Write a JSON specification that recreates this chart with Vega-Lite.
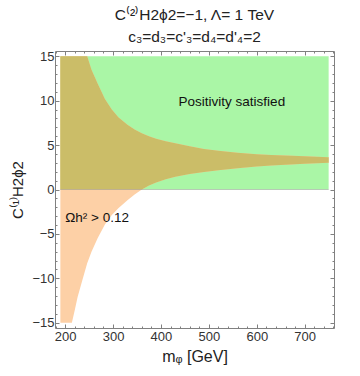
{
  "$schema": "https://vega.github.io/schema/vega-lite/v6.json",
  "width": 279,
  "height": 277,
  "autosize": "none",
  "padding": {"left": 55, "top": 51, "right": 26, "bottom": 48},
  "title": {
    "text": "C⁽²⁾H2ϕ2=−1, Λ= 1 TeV",
    "subtitle": "c₃=d₃=c'₃=d₄=d'₄=2",
    "anchor": "middle",
    "frame": "group",
    "font": "Liberation Sans",
    "fontSize": 15.5,
    "fontWeight": "normal",
    "color": "#222222",
    "subtitleFont": "Liberation Sans",
    "subtitleFontSize": 15.5,
    "subtitleColor": "#222222",
    "subtitlePadding": 6,
    "offset": 5
  },
  "datasets": {
    "pos": [{"x1": 190, "x2": 750, "y1": 0, "y2": 15}],
    "relic": [
      {"m": 190, "lo": -15, "hi": 15, "lo0": 0},
      {"m": 200, "lo": -15, "hi": 15, "lo0": 0},
      {"m": 210, "lo": -15, "hi": 15, "lo0": 0},
      {"m": 214, "lo": -15, "hi": 15, "lo0": 0},
      {"m": 220, "lo": -13.6, "hi": 15, "lo0": 0},
      {"m": 226, "lo": -12.1, "hi": 15, "lo0": 0},
      {"m": 236, "lo": -10.2, "hi": 15, "lo0": 0},
      {"m": 246, "lo": -8.3, "hi": 15, "lo0": 0},
      {"m": 255, "lo": -7.0, "hi": 13.5, "lo0": 0},
      {"m": 268, "lo": -5.45, "hi": 11.9, "lo0": 0},
      {"m": 283, "lo": -3.95, "hi": 10.2, "lo0": 0},
      {"m": 297, "lo": -2.9, "hi": 9.05, "lo0": 0},
      {"m": 311, "lo": -2.1, "hi": 8.15, "lo0": 0},
      {"m": 330, "lo": -1.2, "hi": 7.3, "lo0": 0},
      {"m": 345, "lo": -0.55, "hi": 6.75, "lo0": 0},
      {"m": 360, "lo": 0, "hi": 6.34, "lo0": 0},
      {"m": 375, "lo": 0.45, "hi": 6.0, "lo0": 0.45},
      {"m": 390, "lo": 0.8, "hi": 5.72, "lo0": 0.8},
      {"m": 410, "lo": 1.15, "hi": 5.44, "lo0": 1.15},
      {"m": 430, "lo": 1.45, "hi": 5.2, "lo0": 1.45},
      {"m": 460, "lo": 1.75, "hi": 4.88, "lo0": 1.75},
      {"m": 490, "lo": 1.97, "hi": 4.57, "lo0": 1.97},
      {"m": 520, "lo": 2.18, "hi": 4.36, "lo0": 2.18},
      {"m": 560, "lo": 2.4, "hi": 4.13, "lo0": 2.4},
      {"m": 600, "lo": 2.58, "hi": 3.98, "lo0": 2.58},
      {"m": 630, "lo": 2.7, "hi": 3.9, "lo0": 2.7},
      {"m": 660, "lo": 2.79, "hi": 3.83, "lo0": 2.79},
      {"m": 700, "lo": 2.9, "hi": 3.75, "lo0": 2.9},
      {"m": 750, "lo": 3.0, "hi": 3.63, "lo0": 3.0}
    ],
    "zero": [{"a": 190, "b": 750, "y": 0}],
    "lab1": [{"m": 548, "c": 9.8, "t": "Positivity satisfied"}],
    "lab2": [{"m": 200, "c": -3.2, "t": "Ωh² > 0.12"}]
  },
  "layer": [
    {
      "data": {"name": "pos"},
      "mark": {"type": "rect", "color": "#aaf6a6", "opacity": 1},
      "encoding": {
        "x": {"field": "x1", "type": "quantitative",
          "scale": {"domain": [178.8, 761.2], "nice": false, "zero": false},
          "axis": {"orient": "bottom", "values": [200, 300, 400, 500, 600, 700], "tickSize": -4, "labelPadding": 6, "domain": false, "grid": false,
            "title": "mᵩ [GeV]", "titleFont": "Liberation Sans", "titleFontSize": 16, "titleFontWeight": "normal", "titleColor": "#222222", "titlePadding": 5,
            "labelFont": "Liberation Sans", "labelFontSize": 13, "labelColor": "#333333", "tickColor": "#808080"}},
        "x2": {"field": "x2"},
        "y": {"field": "y1", "type": "quantitative",
          "scale": {"domain": [-15.6, 15.6], "nice": false, "zero": false},
          "axis": {"orient": "left", "values": [-15, -10, -5, 0, 5, 10, 15], "tickSize": -4, "labelPadding": 5, "domain": false, "grid": false,
            "title": "C⁽¹⁾H2ϕ2", "titleFont": "Liberation Sans", "titleFontSize": 15, "titleFontWeight": "normal", "titleColor": "#222222", "titlePadding": 6,
            "labelFont": "Liberation Sans", "labelFontSize": 13, "labelColor": "#333333", "tickColor": "#808080"}},
        "y2": {"field": "y2"}
      }
    },
    {
      "data": {"name": "relic"},
      "mark": {"type": "area", "color": "#fdd0a6", "opacity": 1},
      "encoding": {
        "x": {"field": "m", "type": "quantitative",
          "axis": {"orient": "top", "values": [200, 300, 400, 500, 600, 700], "tickSize": -4, "labels": false, "domain": false, "grid": false, "title": null, "tickColor": "#808080"}},
        "y": {"field": "lo", "type": "quantitative",
          "axis": {"orient": "right", "values": [-15, -10, -5, 0, 5, 10, 15], "tickSize": -4, "labels": false, "domain": false, "grid": false, "title": null, "tickColor": "#808080"}},
        "y2": {"field": "hi"}
      }
    },
    {
      "data": {"name": "relic"},
      "mark": {"type": "area", "color": "#cbbd68", "opacity": 1},
      "encoding": {
        "x": {"field": "m", "type": "quantitative", "axis": null},
        "y": {"field": "lo0", "type": "quantitative", "axis": null},
        "y2": {"field": "hi"}
      }
    },
    {
      "data": {"name": "zero"},
      "mark": {"type": "rule", "color": "#999999", "opacity": 0.5, "strokeWidth": 1},
      "encoding": {
        "x": {"field": "a", "type": "quantitative", "axis": null},
        "x2": {"field": "b"},
        "y": {"field": "y", "type": "quantitative", "axis": null}
      }
    },
    {
      "data": {"name": "lab1"},
      "mark": {"type": "text", "font": "Liberation Sans", "fontSize": 13.5, "color": "#111111", "align": "center", "baseline": "middle"},
      "encoding": {
        "x": {"field": "m", "type": "quantitative",
          "axis": {"orient": "bottom", "values": [180, 200, 220, 240, 260, 280, 300, 320, 340, 360, 380, 400, 420, 440, 460, 480, 500, 520, 540, 560, 580, 600, 620, 640, 660, 680, 700, 720, 740, 760], "tickSize": -2, "labels": false, "domain": false, "grid": false, "title": null, "tickColor": "#808080"}},
        "y": {"field": "c", "type": "quantitative",
          "axis": {"orient": "left", "values": [-15, -14, -13, -12, -11, -10, -9, -8, -7, -6, -5, -4, -3, -2, -1, 0, 1, 2, 3, 4, 5, 6, 7, 8, 9, 10, 11, 12, 13, 14, 15], "tickSize": -2, "labels": false, "domain": false, "grid": false, "title": null, "tickColor": "#808080"}},
        "text": {"field": "t"}
      }
    },
    {
      "data": {"name": "lab2"},
      "mark": {"type": "text", "font": "Liberation Sans", "fontSize": 13.5, "color": "#111111", "align": "left", "baseline": "middle"},
      "encoding": {
        "x": {"field": "m", "type": "quantitative",
          "axis": {"orient": "top", "values": [180, 200, 220, 240, 260, 280, 300, 320, 340, 360, 380, 400, 420, 440, 460, 480, 500, 520, 540, 560, 580, 600, 620, 640, 660, 680, 700, 720, 740, 760], "tickSize": -2, "labels": false, "domain": false, "grid": false, "title": null, "tickColor": "#808080"}},
        "y": {"field": "c", "type": "quantitative",
          "axis": {"orient": "right", "values": [-15, -14, -13, -12, -11, -10, -9, -8, -7, -6, -5, -4, -3, -2, -1, 0, 1, 2, 3, 4, 5, 6, 7, 8, 9, 10, 11, 12, 13, 14, 15], "tickSize": -2, "labels": false, "domain": false, "grid": false, "title": null, "tickColor": "#808080"}},
        "text": {"field": "t"}
      }
    }
  ],
  "resolve": {"axis": {"x": "independent", "y": "independent"}},
  "config": {
    "view": {"stroke": "#808080", "strokeWidth": 1},
    "background": "white"
  }
}
